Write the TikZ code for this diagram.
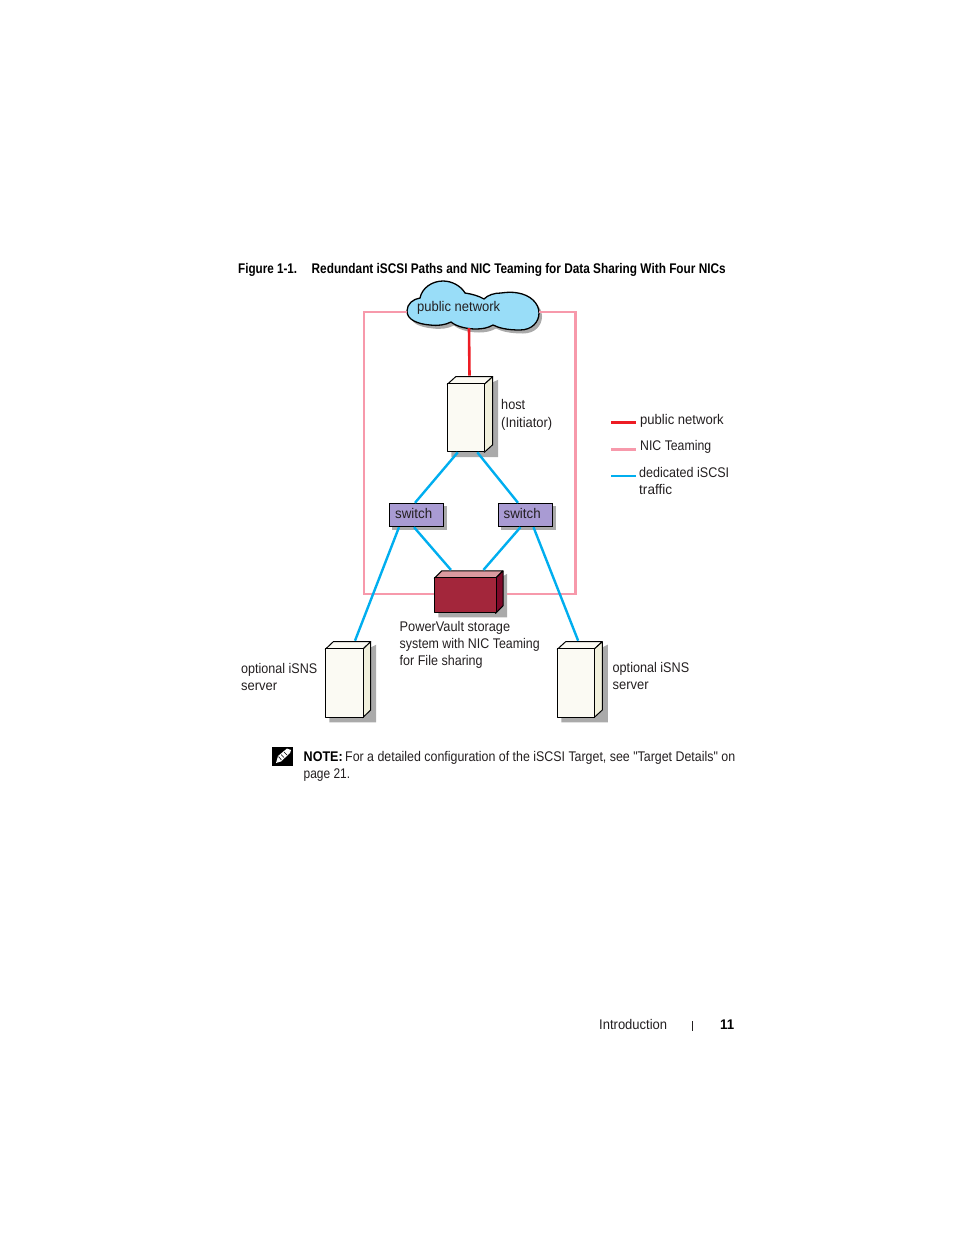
\documentclass[tikz,border=0pt]{standalone}
\usepackage{fontspec}
\usepackage{graphicx}
\setmainfont{Liberation Sans}
\newfontfamily\qf[Ligatures=TeXOff]{Liberation Sans}
\usetikzlibrary{calc}
\definecolor{cloudc}{HTML}{99DDF8}
\definecolor{redc}{HTML}{ED1C24}
\definecolor{pinkc}{HTML}{F799AB}
\definecolor{bluec}{HTML}{00AEEF}
\definecolor{ivory}{HTML}{FBFAF3}
\definecolor{sidec}{HTML}{F1F0DC}
\definecolor{swc}{HTML}{A99BD3}
\definecolor{redbox}{HTML}{A3263B}
\definecolor{redtop}{HTML}{DB9A9F}
\definecolor{redside}{HTML}{7F0A2A}
\definecolor{shadowc}{HTML}{AAAAAA}
\definecolor{txt}{HTML}{231F20}
\newcommand{\fitw}[2]{\resizebox{#1pt}{\height}{#2}}
\def\cloudpath{(407,311) .. controls (407,304) and (413,299) .. (420,298)
 .. controls (422,288) and (432,281) .. (443,281)
 .. controls (452,281) and (461,286) .. (465,293)
 .. controls (472,294) and (479,296) .. (484,299)
 .. controls (488,295) and (494,293) .. (501,293)
 .. controls (508,292) and (513,292) .. (518,293)
 .. controls (530,295) and (539,303) .. (539,313)
 .. controls (539,322) and (532,330) .. (520,330)
 .. controls (507,330) and (499,328) .. (493,325)
 .. controls (488,328) and (482,329) .. (476,329)
 .. controls (468,329) and (457,327) .. (451,322)
 .. controls (445,325) and (438,326) .. (430,325)
 .. controls (418,324) and (407,320) .. (407,311) -- cycle}
\newcommand{\boxthree}[9]{% name, x0,y0,x1,y1, dx,dy, colour front, colour side; uses \topc, \shadr, \shadb
 \fill[shadowc] (#4,#3+2) -- (#4+#6+\shadr,#3+#7+3) -- (#4+#6+\shadr,#5+\shadb) -- (#2+4,#5+\shadb) -- (#2+4,#5) -- cycle;
 \path[bodyline,fill=\topc] (#2,#3) -- (#2+#6,#3+#7) -- (#4+#6,#3+#7) -- (#4,#3) -- cycle;
 \path[bodyline,fill=#9] (#4,#3) -- (#4+#6,#3+#7) -- (#4+#6,#5+#7) -- (#4,#5) -- cycle;
 \node[bodyline,fill=#8,minimum width=#4pt-#2pt,minimum height=#5pt-#3pt,inner sep=0pt,anchor=south west] (#1) at (#2,#5) {};
}
\tikzset{
 x=1pt,y=-1pt,
 bodyline/.style={draw=black,line width=1pt,line join=round},
 lab/.style={anchor=base west,inner sep=0pt,text=txt,font=\fontsize{14}{16}\selectfont},
 blab/.style={anchor=base west,inner sep=0pt,text=black,font=\bfseries\fontsize{14}{16}\selectfont},
 pinkln/.style={draw=pinkc,line width=2.5pt},
 blueln/.style={draw=bluec,line width=2.4pt},
 redln/.style={draw=redc,line width=2.6pt},
 swbox/.style={draw=black,line width=1pt,fill=swc,minimum width=54.4pt,minimum height=23.4pt,inner sep=0pt},
 swshadow/.style={fill=shadowc,minimum width=54.4pt,minimum height=23.4pt,inner sep=0pt},
 keybox/.style={anchor=west,inner sep=0pt,minimum width=25pt},
}
\begin{document}
\begin{tikzpicture}
\useasboundingbox (0,0) rectangle (954,1235);
% title
\node[blab] (fig) at (238,273) {\fitw{59}{Figure 1-1.}};
\node[blab] (title) at (311.5,273) {\fitw{414}{Redundant iSCSI Paths and NIC Teaming for Data Sharing With Four NICs}};
% pink frame corners
\coordinate (pa) at (364,312); \coordinate (pb) at (364,594);
\coordinate (pc) at (575.5,312); \coordinate (pd) at (575.5,594);
% cloud
\fill[shadowc,shift={(3,3.5)}] \cloudpath;
\node[inner sep=0pt,minimum size=0pt] (cloudL) at (407,312) {};
\node[inner sep=0pt,minimum size=0pt] (cloudR) at (539,312) {};
\node[inner sep=0pt,minimum size=0pt] (cloudB) at (469,328) {};
\path[draw=black,line width=1.3pt,fill=cloudc] \cloudpath;
\node[lab] (cloudt) at (417,311.5) {\fitw{83}{public network}};
% host
\def\topc{ivory}\def\shadr{5.5}\def\shadb{4.8}
\boxthree{host}{447.3}{384.3}{484.3}{452.3}{8.4}{-7.6}{ivory}{sidec}
\node[lab] (h1) at (501,409) {\fitw{24}{host}};
\node[lab] (h2) at (501,427) {\fitw{51}{(Initiator)}};
% servers
\boxthree{srvL}{325.3}{649.3}{362.7}{717.6}{8}{-7.6}{ivory}{sidec}
\boxthree{srvR}{557.3}{649.3}{594}{717.6}{8.3}{-7.6}{ivory}{sidec}
% storage
\def\topc{redtop}\def\shadr{4}\def\shadb{4}
\boxthree{stor}{434.3}{578.3}{495.6}{613.3}{7.4}{-7.4}{redbox}{redside}
% switches
\node[swshadow] at (419.5,518) {};
\node[swshadow] at (528.5,518) {};
\node[swbox] (sw1) at (416.5,515) {};
\node[swbox] (sw2) at (525.5,515) {};
\node[lab] (swt1) at (395,518) {\fitw{37}{switch}};
\node[lab] (swt2) at (503.5,518) {\fitw{37}{switch}};
% connectors
\draw[redln] (cloudB) -- ([xshift=3.2pt,yshift=7.6pt]host.north);
\draw[pinkln,line join=miter] (cloudL) -- (pa) -- (pb) -- ([yshift=19.3pt]stor.south west);
\draw[pinkln,line join=miter] (cloudR) -- (pc) -- (pd) -- ([xshift=10.5pt,yshift=19.3pt]stor.south east);
\draw[blueln] ([xshift=-8.5pt]host.south) -- ([xshift=-1.5pt]sw1.north);
\draw[blueln] ([xshift=11pt]host.south) -- ([xshift=-7.5pt]sw2.north);
\draw[blueln] ([xshift=-2.5pt]sw1.south) -- ([xshift=-14.5pt,yshift=7.4pt]stor.north);
\draw[blueln] ([xshift=-5pt]sw2.south) -- ([xshift=18pt,yshift=7.4pt]stor.north);
\draw[blueln] ([xshift=-17.5pt]sw1.south) -- ([xshift=10.5pt,yshift=7.6pt]srvL.north);
\draw[blueln] ([xshift=8pt]sw2.south) -- ([xshift=2pt,yshift=7.6pt]srvR.north);
% labels
\node[lab] (s1) at (399.5,631) {\fitw{110.5}{PowerVault storage}};
\node[lab] (s2) at (399.5,648) {\fitw{140}{system with NIC Teaming}};
\node[lab] (s3) at (399.5,665) {\fitw{83}{for File sharing}};
\node[lab] (oL1) at (241,673) {\fitw{76}{optional iSNS}};
\node[lab] (oL2) at (241,690) {\fitw{36}{server}};
\node[lab] (oR1) at (612.5,672) {\fitw{76.5}{optional iSNS}};
\node[lab] (oR2) at (612.5,689) {\fitw{36}{server}};
% legend
\node[keybox,fill=redc,minimum height=3pt] (k1) at (611,422.3) {};
\node[keybox,fill=pinkc,minimum height=3pt] (k2) at (611,449.3) {};
\node[keybox,fill=bluec,minimum height=2.2pt] (k3) at (611,475.7) {};
\node[lab] (lt1) at (640,424) {\fitw{83.5}{public network}};
\node[lab] (lt2) at (640,450) {\fitw{71}{NIC Teaming}};
\node[lab] (lt3) at (639,477) {\fitw{90}{dedicated iSCSI}};
\node[lab] (lt4) at (639,494) {\fitw{33}{traffic}};
% note icon
\fill[black] (272,747) rectangle (292.5,766);
\fill[white] (276,763) -- (278,756) -- (287,748.5) -- (291,750) -- (290,753) -- (281,761.5) -- cycle;
\draw[black,line width=0.6pt] (278.5,756.5) -- (281.5,760) (281,754.5) -- (284,757.5) (284,752) -- (287,755);
\node[blab] (nb) at (303.5,761) {\fitw{39}{NOTE:}};
\node[lab] (n1) at (345,761) {\fitw{390}{For a detailed configuration of the iSCSI Target, see {\qf"}Target Details{\qf"} on}};
\node[lab] (n2) at (303.5,778) {\fitw{46.5}{page 21.}};
% footer
\node[lab] (intro) at (599,1029) {\fitw{68}{Introduction}};
\coordinate (ba) at (692.5,1021); \coordinate (bb) at (692.5,1031);
\draw[txt,line width=0.8pt] (ba) -- (bb);
\node[blab] (pg) at (720,1029) {\fitw{14}{11}};
\end{tikzpicture}
\end{document}
